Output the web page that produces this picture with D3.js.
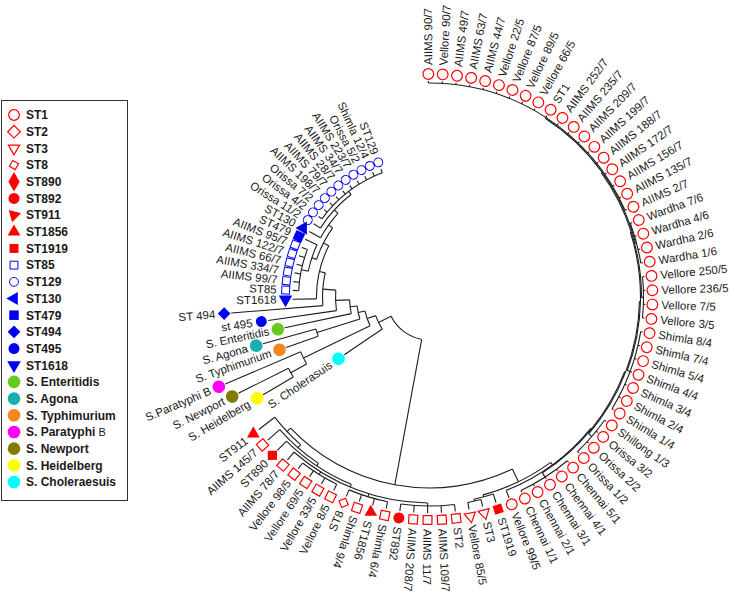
<!DOCTYPE html>
<html><head><meta charset="utf-8">
<script src="https://cdn.jsdelivr.net/npm/d3@7"></script>
<style>body{margin:0;background:#fff}svg{display:block}</style>
</head><body>
<svg id="chart" width="733" height="593"></svg>
<script>
// ---------------- DATA ----------------
// leaves, clockwise from the top of the circle
const leafNames = ["AIIMS 90/7","Vellore 90/7","AIIMS 49/7","AIIMS 63/7","AIIMS 44/7","Vellore 22/5","Vellore 87/5","Vellore 89/5","Vellore 66/5","ST1","AIIMS 252/7","AIIMS 235/7","AIIMS 209/7","AIIMS 199/7","AIIMS 188/7","AIIMS 172/7","AIIMS 156/7","AIIMS 135/7","AIIMS 2/7","Wardha 7/6","Wardha 4/6","Wardha 2/6","Wardha 1/6","Vellore 250/5","Vellore 236/5","Vellore 7/5","Vellore 3/5","Shimla 8/4","Shimla 7/4","Shimla 5/4","Shimla 4/4","Shimla 3/4","Shimla 2/4","Shimla 1/4","Shillong 1/3","Orissa 3/2","Orissa 2/2","Orissa 1/2","Chennai 5/1","Chennai 4/1","Chennai 3/1","Chennai 2/1","Chennai 1/1","Vellore 99/5",
"ST1919","ST3","Vellore 85/5","ST2","AIIMS 109/7","AIIMS 11/7","AIIMS 208/7","ST892","Shimla 6/4","ST1856","Shimla 9/4","ST8","Vellore 8/5","Vellore 33/5","Vellore 69/5","Vellore 98/5","AIIMS 78/7","ST890","AIIMS 145/7","ST911",
"S. Cholerasuis","S. Heidelberg","S. Newport","S.Paratyphi B","S. Typhimurium","S. Agona","S. Enteritidis","st 495","ST 494",
"ST1618","ST85","AIIMS 99/7","AIIMS 334/7","AIIMS 66/7","AIIMS 122/7","AIIMS 95/7","ST479","ST130","Orissa 11/2","Orissa 4/2","Orissa 7/2","AIIMS 198/7","AIIMS 79/7","AIIMS 28/7","AIIMS 34/7","AIIMS 223/7","Orissa 5/2","Shimla 12/4","ST129"];

const leafTypes = ["ST1","ST1","ST1","ST1","ST1","ST1","ST1","ST1","ST1","ST1","ST1","ST1","ST1","ST1","ST1","ST1","ST1","ST1","ST1","ST1","ST1","ST1","ST1","ST1","ST1","ST1","ST1","ST1","ST1","ST1","ST1","ST1","ST1","ST1","ST1","ST1","ST1","ST1","ST1","ST1","ST1","ST1","ST1","ST1",
"ST1919","ST3","ST3","ST2","ST2","ST2","ST2","ST892","ST2","ST1856","ST2","ST8","ST2","ST2","ST2","ST2","ST2","ST890","ST2","ST911",
"Chol","Heid","Newp","Para","Typh","Agon","Ente","ST495","ST494",
"ST1618","ST85","ST85","ST85","ST85","ST85","ST85","ST479","ST130","ST129","ST129","ST129","ST129","ST129","ST129","ST129","ST129","ST129","ST129","ST129"];

// distance of each leaf tip from the root (tree units)
const leafDepths = [216,216,216,216,216,216,216,216,216,216,216,216,216,216,216,216,216,216,216,216,216,216,216,216,216,216,216,216,216,216,216,216,216,216,216,216,216,216,216,216,216,216,216,216,
216,216,216,216,216,216,216,216,216,216,216,216,216,216,216,216,216,216,216,216,
103,193,214,222,152,173,148,163,199,
137,137,137,137,137,137,137,137,137,137,137,137,137,137,137,137,137,137,137,137];

// legend
const legendLabels = ["ST1","ST2","ST3","ST8","ST890","ST892","ST911","ST1856","ST1919","ST85","ST129","ST130","ST479","ST494","ST495","ST1618","S. Enteritidis","S. Agona","S. Typhimurium","S. Paratyphi","S. Newport","S. Heidelberg","S. Choleraesuis"];
const legendTypes = ["ST1","ST2L","ST3L","ST8L","ST890L","ST892","ST911L","ST1856L","ST1919","ST85","ST129","ST130","ST479","ST494","ST495","ST1618","Ente","Agon","Typh","Para","Newp","Heid","Chol"];

// topology: N(depth of node, ...children), G(depth, firstLeaf, lastLeaf) = polytomy of consecutive leaves
function N(d, ...kids){ return {d, kids}; }
function G(d, a, b){ const kids = []; for (let i = a; i <= b; i++) kids.push(i); return {d, kids}; }
const tree = N(43,
  N(191,
    N(205,
      N(208,
        N(209,
          N(210,
            N(211,
              N(212,
                N(213, G(214,0,18), G(214,19,22)),
                G(214,23,26)),
              G(214,27,33)),
            G(214,34,37)),
          G(214,38,42)),
        43),
      N(207, 44, N(209, 45, 46))),
    N(196,
      N(200,
        N(203,
          N(206, G(209,47,51), G(209,52,55), G(209,56,59), 60),
          61),
        62),
      63)),
  N(57,
    64,
    N(66,
      N(140, N(158, 65, 66), 67),
      N(73,
        N(118, 68, 69),
        N(80, 70,
          N(94, 71,
            N(107, 72,
              N(113, 73,
                N(119,
                  N(124, G(131,74,79), 80),
                  N(124, 81, N(129, 82, G(133,83,92)))))))))))
);

// ---------------- DRAW ----------------
const RED = "#ff0000", BLUE = "#0000f0";
const colors = {Ente:"#66c820", Agon:"#18b0ae", Typh:"#f5861f", Para:"#ff00ff", Newp:"#7f7c00", Heid:"#ffff00", Chol:"#00ffff"};
const cx = 429.5, cy = 297;
const svg = d3.select("#chart");
const aScale = d3.scaleLinear().domain([0, leafNames.length - 1]).range([-0.3, -0.3 + 92 * 3.69]);
const rScale = d3.scaleLinear().domain([0, 216]).range([0, 216]);
const rad = t => t * Math.PI / 180;
const P = (r, t) => [cx + r * Math.sin(rad(t)), cy - r * Math.cos(rad(t))];

const root = d3.hierarchy(tree, n => (typeof n === "number") ? null : n.kids);
root.eachAfter(n => {
  if (!n.children) { n.theta = aScale(n.data); n.r = rScale(leafDepths[n.data]); }
  else { n.theta = d3.mean(n.children, c => c.theta); n.r = rScale(n.data.d); }
});

const gTree = svg.append("g").attr("fill", "none").attr("stroke", "#1e1e1e").attr("stroke-width", 1.1);
root.descendants().forEach(n => {
  if (n.parent) {
    const a = P(n.parent.r, n.theta), b = P(n.r, n.theta);
    gTree.append("line").attr("x1", a[0]).attr("y1", a[1]).attr("x2", b[0]).attr("y2", b[1]);
  }
  if (n.children) {
    const t0 = d3.min(n.children, c => c.theta), t1 = d3.max(n.children, c => c.theta);
    const p = d3.path();
    p.arc(cx, cy, n.r, rad(t0 - 90), rad(t1 - 90));
    gTree.append("path").attr("d", p.toString());
  }
});

function marker(g, type, x, y, rot) {
  const s = d3.symbol();
  let path, fill = "none", stroke = null, sw = 1.2, tr = rot;
  switch (type) {
    case "ST1": path = s.type(d3.symbolCircle).size(90)(); stroke = RED; break;
    case "ST892": path = s.type(d3.symbolCircle).size(95)(); fill = RED; break;
    case "ST2": path = s.type(d3.symbolSquare).size(78)(); stroke = RED; break;
    case "ST2L": path = s.type(d3.symbolSquare).size(80)(); stroke = RED; tr = 45; break;
    case "ST8": path = s.type(d3.symbolSquare).size(50)(); stroke = RED; tr = rot + 45; break;
    case "ST8L": path = s.type(d3.symbolSquare).size(45)(); stroke = RED; tr = 30; break;
    case "ST3": path = s.type(d3.symbolTriangle).size(55)(); stroke = RED; break;
    case "ST3L": path = s.type(d3.symbolTriangle).size(55)(); stroke = RED; tr = 180; break;
    case "ST890": path = s.type(d3.symbolSquare).size(85)(); fill = RED; tr = rot + 45; break;
    case "ST890L": path = s.type(d3.symbolDiamond).size(110)(); fill = RED; tr = 0; break;
    case "ST911": path = s.type(d3.symbolTriangle).size(70)(); fill = RED; tr = 0; break;
    case "ST911L": path = s.type(d3.symbolTriangle).size(70)(); fill = RED; tr = 75; break;
    case "ST1856": path = s.type(d3.symbolTriangle).size(70)(); fill = RED; tr = 0; break;
    case "ST1856L": path = s.type(d3.symbolTriangle).size(70)(); fill = RED; tr = 0; break;
    case "ST1919": path = s.type(d3.symbolSquare).size(80)(); fill = RED; break;
    case "ST85": path = s.type(d3.symbolSquare).size(62)(); stroke = BLUE; sw = 1; break;
    case "ST129": path = s.type(d3.symbolCircle).size(62)(); stroke = BLUE; sw = 1; break;
    case "ST130": path = s.type(d3.symbolTriangle).size(75)(); fill = BLUE; tr = -90; break;
    case "ST479": path = s.type(d3.symbolSquare).size(90)(); fill = BLUE; break;
    case "ST494": path = s.type(d3.symbolSquare).size(80)(); fill = BLUE; tr = 45; break;
    case "ST495": path = s.type(d3.symbolCircle).size(95)(); fill = BLUE; break;
    case "ST1618": path = s.type(d3.symbolTriangle).size(80)(); fill = BLUE; tr = 180; break;
    default: path = s.type(d3.symbolCircle).size(125)(); fill = colors[type]; break;
  }
  g.append("path").attr("d", path)
    .attr("transform", `translate(${x},${y}) rotate(${tr})`)
    .attr("fill", fill).attr("stroke", stroke).attr("stroke-width", sw);
}

const gMark = svg.append("g");
const gLab = svg.append("g").attr("font-family", "Liberation Sans, Arial, sans-serif")
  .attr("font-size", "11.5px").attr("fill", "#1a1a1a");
root.leaves().forEach(n => {
  const i = n.data, type = leafTypes[i];
  const mr = n.r + 7;
  const [mx, my] = P(mr, n.theta);
  const rot = (type === "ST130" || type === "ST1618" || type === "ST494") ? 0 : n.theta;
  marker(gMark, type, mx, my, rot);
  const [lx, ly] = P(mr + 9, n.theta);
  const flip = n.theta > 200;
  gLab.append("text").attr("x", 0).attr("y", 0).attr("dy", "0.35em")
    .attr("text-anchor", flip ? "end" : "start")
    .attr("transform", `translate(${lx},${ly}) rotate(${flip ? n.theta + 90 : n.theta - 90})`)
    .text(leafNames[i]);
});

// legend
const gLeg = svg.append("g");
gLeg.append("rect").attr("x", 1.5).attr("y", 100.5).attr("width", 126).attr("height", 400)
  .attr("fill", "#fff").attr("stroke", "#333").attr("stroke-width", 1);
const ly = d3.scaleLinear().domain([0, legendLabels.length - 1]).range([115, 482]);
legendLabels.forEach((lab, i) => {
  marker(gLeg, legendTypes[i], 14, ly(i), 0);
  const t = gLeg.append("text").attr("x", 26).attr("y", ly(i)).attr("dy", "0.36em")
    .attr("font-family", "Liberation Sans, Arial, sans-serif").attr("font-size", "12px")
    .attr("font-weight", "bold").attr("fill", "#1a1a1a").text(lab);
  if (lab === "S. Paratyphi") t.append("tspan").attr("font-weight", "normal").attr("font-size", "11px").text(" B");
});
</script>
</body></html>
